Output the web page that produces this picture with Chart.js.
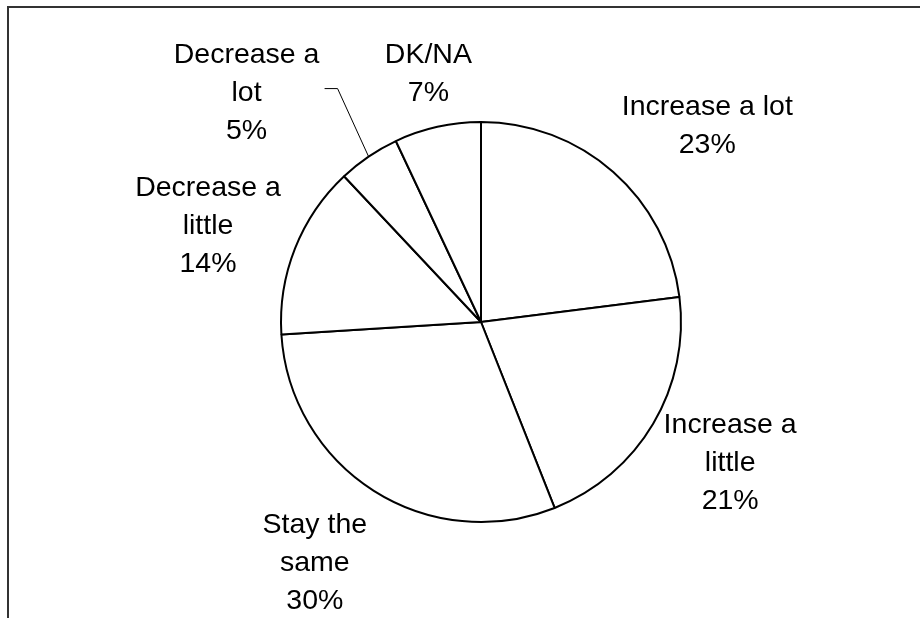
<!DOCTYPE html>
<html>
<head>
<meta charset="utf-8">
<script src="https://cdn.jsdelivr.net/npm/chart.js@4.4.0/dist/chart.umd.min.js"></script>
<style>
    html, body { margin: 0; padding: 0; background: #fff; }
    #wrap { position: relative; width: 920px; height: 618px; }
    #frame {
        position: absolute; left: 7px; top: 6px; right: 0; bottom: 0;
        border-top: 2px solid #333; border-left: 2px solid #333;
        pointer-events: none;
    }
    canvas { position: absolute; left: 0; top: 0; }
</style>
</head>
<body>
<div id="wrap">
    <canvas id="pieChart" width="920" height="618"></canvas>
    <div id="frame"></div>
</div>
<script>
// Chart data
const categories = ['Increase a lot', 'Increase a little', 'Stay the same', 'Decrease a little', 'Decrease a lot', 'DK/NA'];
const labelLines = [['Increase a lot'], ['Increase a', 'little'], ['Stay the', 'same'], ['Decrease a', 'little'], ['Decrease a', 'lot'], ['DK/NA']];
const values = [23, 21, 30, 14, 5, 7];

// Label placement relative to the slice's outer mid-point (layout only)
const labelNudge = [[94, -57], [77, 9], [-59, 42], [-87, -52], [-122, -94], [-9, -64]];
const leaderLines = { 4: [[-31, -68], [-44, -68]] };

const FONT = '28.5px "Liberation Sans", Arial, sans-serif';
const LINE_HEIGHT = 38;

const outsideLabels = {
    id: 'outsideLabels',
    afterDraw(chart) {
        const ctx = chart.ctx;
        const meta = chart.getDatasetMeta(0);
        const total = values.reduce((a, b) => a + b, 0);
        ctx.save();
        ctx.font = FONT;
        ctx.fillStyle = '#000';
        ctx.textAlign = 'center';
        ctx.textBaseline = 'alphabetic';
        meta.data.forEach((arc, i) => {
            const { x, y, startAngle, endAngle, outerRadius } = arc.getProps(['x', 'y', 'startAngle', 'endAngle', 'outerRadius'], true);
            const mid = (startAngle + endAngle) / 2;
            const ex = x + Math.cos(mid) * outerRadius;
            const ey = y + Math.sin(mid) * outerRadius;

            if (leaderLines[i]) {
                ctx.beginPath();
                ctx.lineWidth = 1;
                ctx.strokeStyle = '#000';
                ctx.moveTo(ex, ey);
                leaderLines[i].forEach(p => ctx.lineTo(ex + p[0], ey + p[1]));
                ctx.stroke();
            }

            const lx = ex + labelNudge[i][0];
            let ly = ey + labelNudge[i][1];
            const pct = Math.round(values[i] / total * 100) + '%';
            [...labelLines[i], pct].forEach(line => {
                ctx.fillText(line, lx, ly);
                ly += LINE_HEIGHT;
            });
        });
        ctx.restore();
    }
};

document.addEventListener('DOMContentLoaded', () => {
    const ctx = document.getElementById('pieChart').getContext('2d');
    new Chart(ctx, {
        type: 'pie',
        data: {
            labels: categories,
            datasets: [{
                data: values,
                backgroundColor: '#ffffff',
                borderColor: '#000000',
                borderWidth: 2,
                hoverOffset: 0
            }]
        },
        options: {
            responsive: false,
            animation: false,
            devicePixelRatio: 1,
            events: [],
            layout: {
                padding: { left: 280, right: 238, top: 121, bottom: 95 }
            },
            plugins: {
                legend: { display: false },
                tooltip: { enabled: false }
            }
        },
        plugins: [outsideLabels]
    });
});
</script>
</body>
</html>
